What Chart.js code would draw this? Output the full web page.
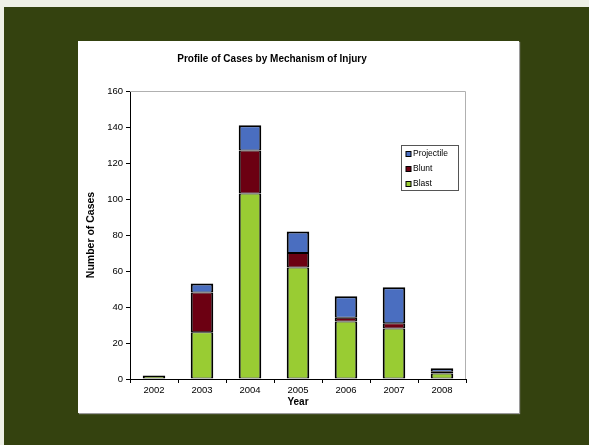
<!DOCTYPE html>
<html>
<head>
<meta charset="utf-8">
<script src="https://cdn.jsdelivr.net/npm/chart.js@4"></script>
<style>
  html, body { margin: 0; padding: 0; }
  body { width: 589px; height: 445px; background: #eef0e6; position: relative; overflow: hidden; }
  #fondo { position: absolute; left: 4px; top: 7px; right: 0; bottom: 0; background: #34420f; }
  #panel { position: absolute; left: 78px; top: 41px; width: 441px; height: 372px; background: #fff;
           box-shadow: 1px 1px 1px #9a9a9a; }
  #panel canvas { display: block; }
</style>
</head>
<body>
<div id="fondo"></div>
<div id="panel"><canvas id="grafico" width="441" height="372"></canvas></div>
<script>
const anios = ['2002', '2003', '2004', '2005', '2006', '2007', '2008']
const blast = [2, 26, 103, 62, 32, 28, 3]
const blunt = [0, 22, 24, 8, 2, 3, 1]
const projectile = [0, 5, 14, 12, 12, 20, 2]
const ticksY = [0, 20, 40, 60, 80, 100, 120, 140, 160]

const fuente = "'Liberation Sans', Arial, sans-serif"

// leyenda dentro del area del grafico, como en Excel
const leyendaCaja = {
    id: 'leyendaCaja',
    beforeDatasetsDraw(chart) {
        const {ctx, chartArea} = chart
        ctx.save()
        ctx.strokeStyle = '#b0b0b0'
        ctx.lineWidth = 1
        ctx.beginPath()
        ctx.moveTo(chartArea.left, chartArea.top + 0.5)
        ctx.lineTo(chartArea.right - 0.5, chartArea.top + 0.5)
        ctx.lineTo(chartArea.right - 0.5, chartArea.bottom)
        ctx.stroke()
        ctx.restore()
    },
    afterDraw(chart) {
        const {ctx} = chart
        const x = 323, y = 104, w = 57, h = 45
        ctx.save()
        ctx.fillStyle = '#fff'
        ctx.fillRect(x, y, w, h)
        ctx.strokeStyle = '#555'
        ctx.lineWidth = 1
        ctx.strokeRect(x + 0.5, y + 0.5, w, h)
        ctx.font = '8.5px ' + fuente
        ctx.textBaseline = 'middle'
        const sets = chart.data.datasets.slice().reverse()
        sets.forEach((ds, i) => {
            const cy = y + 9 + i * 15
            ctx.fillStyle = ds.backgroundColor
            ctx.fillRect(x + 5, cy - 2.5, 5, 5)
            ctx.strokeStyle = '#000'
            ctx.strokeRect(x + 5, cy - 2.5, 5, 5)
            ctx.fillStyle = '#000'
            ctx.fillText(ds.label, x + 12, cy)
        })
        ctx.restore()
    }
}

// bordes: los lados compartidos entre segmentos suman ~2px,
// el segmento de arriba de cada columna lleva borde superior completo
const bordeMedio = { top: 1, bottom: 1, left: 2, right: 2 }
const bordeArriba = { top: 2, bottom: 1, left: 2, right: 2 }
const series = [blast, blunt, projectile]
const borde = (c) => {
    if (c.type !== 'data') return bordeMedio
    const arriba = series.slice(c.datasetIndex + 1).every(s => !s[c.dataIndex])
    return arriba ? bordeArriba : bordeMedio
}

const ctx = document.getElementById('grafico')
let grafico = new Chart(ctx, {
    type: 'bar',
    data: {
        labels: anios,
        datasets: [
            { label: 'Blast', data: blast, backgroundColor: '#99cc33' },
            { label: 'Blunt', data: blunt, backgroundColor: '#6c0012' },
            { label: 'Projectile', data: projectile, backgroundColor: '#4a6ec0' }
        ]
    },
    options: {
        responsive: false,
        animation: false,
        layout: { padding: { left: 0, right: 53, top: 0, bottom: 0 } },
        datasets: {
            bar: {
                borderColor: '#000',
                borderWidth: borde,
                borderSkipped: false,
                barPercentage: 0.47,
                categoryPercentage: 1
            }
        },
        plugins: {
            legend: { display: false },
            tooltip: { enabled: false },
            title: {
                display: true,
                text: 'Profile of Cases by Mechanism of Injury',
                color: '#000',
                font: { family: fuente, size: 10, weight: 'bold' },
                padding: { top: 12, bottom: 26 }
            }
        },
        scales: {
            x: {
                stacked: true,
                offset: true,
                afterFit: (s) => { s.height = 34 },
                grid: { offset: true, drawOnChartArea: false, drawTicks: true, tickLength: 4, color: '#000' },
                border: { color: '#000', width: 1 },
                ticks: { color: '#000', padding: 2, font: { family: fuente, size: 9.5 } },
                title: { display: true, text: 'Year', color: '#000', padding: { top: 5, bottom: 5 },
                         font: { family: fuente, size: 10, weight: 'bold' } }
            },
            y: {
                stacked: true,
                min: 0,
                max: 160,
                afterFit: (s) => { s.width = 52 },
                afterBuildTicks: (s) => { s.ticks = ticksY.map(v => ({ value: v })) },
                grid: { drawOnChartArea: false, drawTicks: true, tickLength: 4, color: '#000' },
                border: { color: '#000', width: 1 },
                ticks: { color: '#000', padding: 3, font: { family: fuente, size: 9.5 } },
                title: { display: true, text: 'Number of Cases', color: '#000', padding: { top: 7, bottom: 7 },
                         font: { family: fuente, size: 10.5, weight: 'bold' } }
            }
        }
    },
    plugins: [leyendaCaja]
})
</script>
</body>
</html>
